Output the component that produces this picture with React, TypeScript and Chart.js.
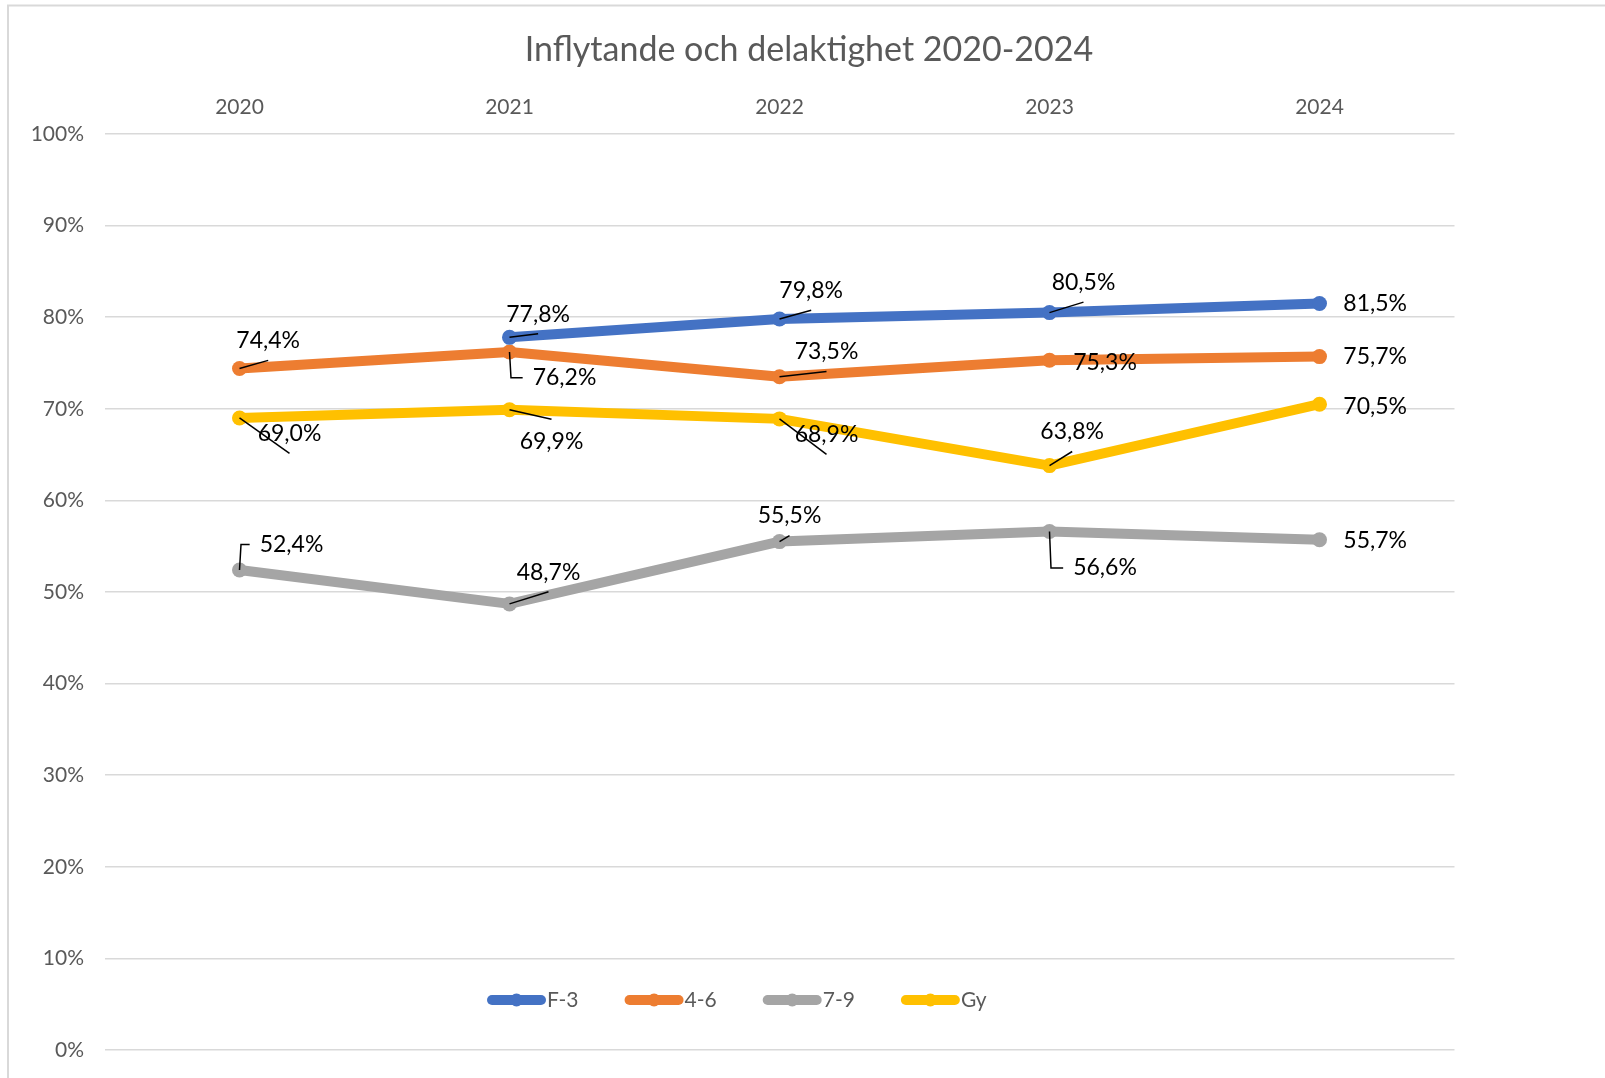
import React, { useEffect, useRef } from 'react';
import { Chart, registerables } from 'chart.js';

Chart.register(...registerables);

// ---- data ----
const titleText = 'Inflytande och delaktighet 2020-2024';
const years = ['2020', '2021', '2022', '2023', '2024'];
const seriesNames = ['F-3', '4-6', '7-9', 'Gy'];
const valuesF3 = [null, 77.8, 79.8, 80.5, 81.5];
const values46 = [74.4, 76.2, 73.5, 75.3, 75.7];
const values79 = [52.4, 48.7, 55.5, 56.6, 55.7];
const valuesGy = [69.0, 69.9, 68.9, 63.8, 70.5];

// ---- styling / layout (kept apart from the data) ----
const seriesColors = ['#4472C4', '#ED7D31', '#A5A5A5', '#FFC000'];
const FONT = 'Lato, "Open Sans", sans-serif';
const TEXT_GRAY = '#595959';

// label placement relative to each point: [dx, dy, leaderType]
// 'b' = leader to below the label, 't' = leader to above, 'e' = elbow, '' = none
const labelLayout: any[][] = [
  [null, [28.6, -23, 'b'], [31.7, -28.3, 'b'], [34, -30, 'b'], [55.7, 0.5, '']],
  [[28.7, -27.6, 'b'], [55, 25.7, 'e'], [47, -24.7, 'b'], [55.5, 2, ''], [55.7, 0.4, '']],
  [[52, -25.4, 'e'], [39, -31.7, 'b'], [10, -25.6, 'b'], [55.5, 36.5, 'e'], [55.7, 0.6, '']],
  [[50, 16, 'b'], [42, 31.5, 't'], [47, 16, 'b'], [22.7, -33.6, 'b'], [55.7, 2.2, '']],
];

const fmt = (v: number) => v.toFixed(1).replace('.', ',') + '%';

const backgroundPlugin = {
  id: 'bgBorder',
  beforeDraw(chart: any) {
    const { ctx, width, height } = chart;
    ctx.save();
    ctx.fillStyle = '#ffffff';
    ctx.fillRect(0, 0, width, height);
    ctx.strokeStyle = '#d9d9d9';
    ctx.lineWidth = 2;
    ctx.beginPath();
    ctx.moveTo(8, height + 10);
    ctx.lineTo(8, 5.5);
    ctx.lineTo(width + 10, 5.5);
    ctx.stroke();
    ctx.restore();
  },
};

const titlePlugin = {
  id: 'customTitle',
  afterDraw(chart: any) {
    const { ctx } = chart;
    ctx.save();
    ctx.font = `34px ${FONT}`;
    ctx.fillStyle = TEXT_GRAY;
    ctx.textAlign = 'center';
    ctx.textBaseline = 'middle';
    ctx.fillText(titleText, 809, 50);
    ctx.restore();
  },
};

const dataLabelPlugin = {
  id: 'dataLabels',
  afterDatasetsDraw(chart: any) {
    const { ctx } = chart;
    ctx.save();
    ctx.font = `23px ${FONT}`;
    ctx.textAlign = 'center';
    ctx.textBaseline = 'middle';
    chart.data.datasets.forEach((ds: any, i: number) => {
      const meta = chart.getDatasetMeta(i);
      ds.data.forEach((v: number | null, j: number) => {
        if (v === null || v === undefined) return;
        const lay = labelLayout[i][j];
        if (!lay) return;
        const el = meta.data[j];
        const px = el.x;
        const py = el.y;
        const cx = px + lay[0];
        const cy = py + lay[1];
        const txt = fmt(v);
        const w = ctx.measureText(txt).width;
        ctx.strokeStyle = '#000';
        ctx.lineWidth = 1.5;
        if (lay[2] === 'b') {
          ctx.beginPath();
          ctx.moveTo(px, py);
          ctx.lineTo(cx, cy + 19.5);
          ctx.stroke();
        } else if (lay[2] === 't') {
          ctx.beginPath();
          ctx.moveTo(px, py);
          ctx.lineTo(cx, cy - 22);
          ctx.stroke();
        } else if (lay[2] === 'e') {
          ctx.beginPath();
          ctx.moveTo(px, py);
          ctx.lineTo(px + 1.5, cy);
          ctx.lineTo(cx - w / 2 - 10, cy);
          ctx.stroke();
        }
        ctx.fillStyle = '#000';
        ctx.fillText(txt, cx, cy);
      });
    });
    ctx.restore();
  },
};

const legendPlugin = {
  id: 'customLegend',
  afterDraw(chart: any) {
    const { ctx } = chart;
    ctx.save();
    ctx.font = `21px ${FONT}`;
    ctx.textBaseline = 'middle';
    ctx.textAlign = 'left';
    let x = 487;
    const y = 1000;
    chart.data.datasets.forEach((ds: any) => {
      ctx.strokeStyle = ds.borderColor;
      ctx.lineWidth = 10;
      ctx.lineCap = 'round';
      ctx.beginPath();
      ctx.moveTo(x + 5, y);
      ctx.lineTo(x + 54, y);
      ctx.stroke();
      ctx.fillStyle = ds.borderColor;
      ctx.beginPath();
      ctx.arc(x + 29.5, y, 6.5, 0, Math.PI * 2);
      ctx.fill();
      ctx.fillStyle = TEXT_GRAY;
      ctx.fillText(ds.label, x + 60, y);
      const tw = ctx.measureText(ds.label).width;
      x += 60 + tw + 46;
    });
    ctx.restore();
  },
};

export default function App() {
  const canvasRef = useRef<HTMLCanvasElement | null>(null);

  useEffect(() => {
    if (!canvasRef.current) return;
    const allValues = [valuesF3, values46, values79, valuesGy];
    const chart = new Chart(canvasRef.current, {
      type: 'line',
      data: {
        labels: years,
        datasets: seriesNames.map((name, i) => ({
          label: name,
          data: allValues[i],
          borderColor: seriesColors[i],
          backgroundColor: seriesColors[i],
          borderWidth: 10,
          borderCapStyle: 'round',
          borderJoinStyle: 'round',
          pointRadius: 7.5,
          pointBorderWidth: 0,
          pointBackgroundColor: seriesColors[i],
          tension: 0,
          spanGaps: false,
        })),
      },
      options: {
        animation: false,
        responsive: true,
        maintainAspectRatio: false,
        layout: { padding: { left: 0, right: 150.5, top: 74, bottom: 28 } },
        plugins: {
          legend: { display: false },
          title: { display: false },
          tooltip: { enabled: false },
        },
        scales: {
          x: {
            type: 'category',
            position: 'top',
            offset: true,
            grid: { display: false },
            border: { display: false },
            ticks: { font: { family: FONT, size: 21 }, color: TEXT_GRAY, padding: 6 },
            afterFit: (s: any) => {
              s.height = 60;
              s.paddingLeft = 0;
              s.paddingRight = 0;
            },
          },
          y: {
            min: 0,
            max: 100,
            grid: { color: '#d9d9d9', lineWidth: 1.5, drawTicks: false },
            border: { display: false },
            ticks: {
              stepSize: 10,
              padding: 20.5,
              font: { family: FONT, size: 21 },
              color: TEXT_GRAY,
              callback: (v: any) => `${v}%`,
            },
            afterFit: (s: any) => {
              s.width = 104.5;
              s.paddingTop = 0;
              s.paddingBottom = 0;
            },
          },
        },
      } as any,
      plugins: [backgroundPlugin, titlePlugin, dataLabelPlugin, legendPlugin],
    });
    return () => chart.destroy();
  }, []);

  return (
    <div style={{ position: 'fixed', left: 0, top: 0, width: 1605, height: 1078, background: '#fff' }}>
      <canvas ref={canvasRef} />
    </div>
  );
}
